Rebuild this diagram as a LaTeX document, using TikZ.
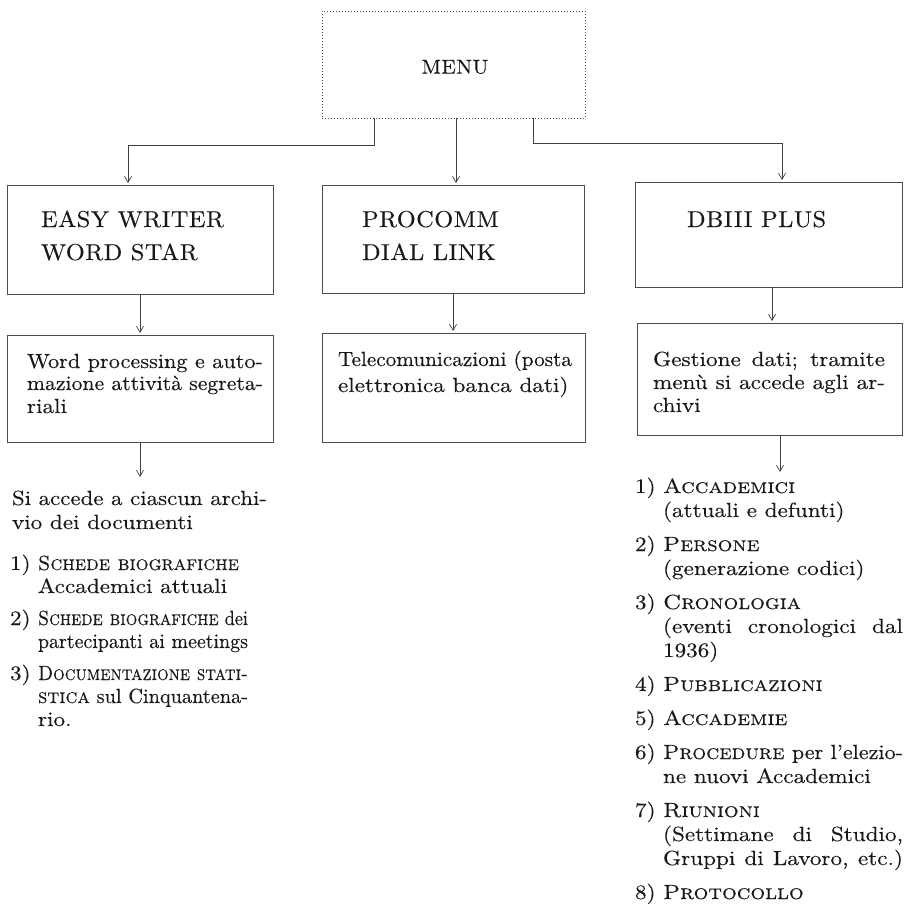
\documentclass[tikz,border=0pt]{standalone}
\usepackage{fontspec}
\usepackage{graphicx}
\usetikzlibrary{arrows.meta}
\setmainfont{lmroman10-regular.otf}[Ligatures=TeX,SmallCapsFont=lmromancaps10-regular.otf,BoldFont=lmroman10-bold.otf,ItalicFont=lmroman10-italic.otf]
\newfontfamily\bodyfam{lmroman10-regular.otf}[Ligatures=TeX,FakeStretch=1.13,FakeBold=0.3,SmallCapsFont=lmromancaps10-regular.otf,SmallCapsFeatures={FakeStretch=1.13,FakeBold=0.3}]
\newfontfamily\headfam{lmroman10-regular.otf}[FakeStretch=1.06,LetterSpace=2,FakeBold=0.25]
\newcommand\bodyf{\bodyfam\fontsize{20.5}{24}\selectfont}
\newcommand\headf{\headfam\fontsize{23}{28}\selectfont}
\newsavebox\jlbox
\newcommand\jline[2]{\sbox\jlbox{#2}\ifdim\wd\jlbox>#1\relax\resizebox{#1}{\height}{\usebox\jlbox}\else\makebox[#1][s]{#2}\fi}
\newcommand\TL[4]{\node[txt] (#1) at (#2,#3) {#4};}
\begin{document}
\begin{tikzpicture}[x=1pt,y=-1pt,
  txt/.style={inner sep=0pt,outer sep=0pt,anchor=base west,font=\bodyf,text=black!90},
  hdr/.style={txt,font=\headf},
  box/.style={draw=black!70,line width=0.7pt,inner sep=0pt,outer sep=0pt,rectangle},
  dotbox/.style={box,line width=0.9pt,dash pattern=on 0.9pt off 2.1pt},
  arr/.style={draw=black!75,line width=0.7pt,shorten >=2pt,-{Straight Barb[length=6pt,width=7pt]}}]
\useasboundingbox (0,0) rectangle (910,917);
% boxes
\node[dotbox,minimum width=263pt,minimum height=107pt] (menu) at (453.5,64.5) {};
\node[txt,anchor=center,font=\headfam\fontsize{20}{24}\selectfont] (menut) at (455,67) {MENU};
\node[box,minimum width=266pt,minimum height=109pt] (ew) at (140,239.5) {};
\node[box,minimum width=262pt,minimum height=108pt] (pc) at (453,239) {};
\node[box,minimum width=267pt,minimum height=105pt] (db) at (768.5,234.5) {};
\node[box,minimum width=266pt,minimum height=107pt] (wp) at (140,388.5) {};
\node[box,minimum width=263pt,minimum height=109pt] (tc) at (453.5,387.5) {};
\node[box,minimum width=265pt,minimum height=112pt] (gd) at (769.5,379) {};
% headers
\node[hdr] (h1a) at (41,227) {EASY WRITER};
\node[hdr] (h1b) at (41,260) {WORD STAR};
\node[hdr] (h2a) at (362,227) {PROCOMM};
\node[hdr] (h2b) at (362,260) {DIAL LINK};
\node[hdr] (h3a) at (687,227) {DBIII PLUS};
% box texts
\TL{wp1}{27}{368}{\jline{236pt}{Word processing e auto-}}
\TL{wp2}{27}{390}{\jline{236pt}{mazione attività segreta-}}
\TL{wp3}{27}{413}{riali}
\TL{tc1}{338}{366}{\jline{234pt}{Telecomunicazioni (posta}}
\TL{tc2}{338}{392}{elettronica banca dati)}
\TL{gd1}{653}{366}{\jline{232pt}{Gestione dati; tramite}}
\TL{gd2}{653}{389}{\jline{232pt}{menù si accede agli ar-}}
\TL{gd3}{653}{412}{chivi}
% left list
\TL{si1}{12}{505}{\jline{255pt}{Si accede a ciascun archi-}}
\TL{si2}{12}{529}{vio dei documenti}
\TL{l1n}{10}{570}{1)}
\TL{l1a}{38}{570}{\jline{201pt}{\textsc{Schede biografiche}}}
\TL{l1b}{38}{593}{Accademici attuali}
\TL{l2n}{10}{625}{2)}
\TL{l2a}{38}{625}{\jline{210pt}{\textsc{Schede biografiche} dei}}
\TL{l2b}{38}{648}{\jline{210pt}{partecipanti ai meetings}}
\TL{l3n}{10}{680}{3)}
\TL{l3a}{38}{680}{\jline{210pt}{\textsc{Documentazione stati-}}}
\TL{l3b}{38}{703}{\jline{210pt}{\textsc{stica} sul Cinquantena-}}
\TL{l3c}{38}{726}{rio.}
% right list
\TL{r1n}{635}{493}{1)}
\TL{r1a}{663}{493}{\textsc{Accademici}}
\TL{r1b}{663}{517}{(attuali e defunti)}
\TL{r2n}{635}{551}{2)}
\TL{r2a}{663}{551}{\textsc{Persone}}
\TL{r2b}{663}{575}{(generazione codici)}
\TL{r3n}{635}{609}{3)}
\TL{r3a}{663}{609}{\textsc{Cronologia}}
\TL{r3b}{663}{633}{\jline{240pt}{(eventi cronologici dal}}
\TL{r3c}{663}{657}{1936)}
\TL{r4n}{635}{691}{4)}
\TL{r4a}{663}{691}{\textsc{Pubblicazioni}}
\TL{r5n}{635}{725}{5)}
\TL{r5a}{663}{725}{\textsc{Accademie}}
\TL{r6n}{635}{759}{6)}
\TL{r6a}{663}{759}{\jline{240pt}{\textsc{Procedure} per l'elezio-}}
\TL{r6b}{663}{783}{ne nuovi Accademici}
\TL{r7n}{635}{817}{7)}
\TL{r7a}{663}{817}{\textsc{Riunioni}}
\TL{r7b}{663}{841}{\jline{240pt}{(Settimane di Studio,}}
\TL{r7c}{663}{865}{\jline{240pt}{Gruppi di Lavoro, etc.)}}
\TL{r8n}{635}{899}{8)}
\TL{r8a}{663}{899}{\textsc{Protocollo}}
% connectors
\coordinate (j1a) at (374,145);
\coordinate (j1b) at (128,145);
\draw[arr] (j1a |- menu.south) -- (j1a) -- (j1b) -- (j1b |- ew.north);
\coordinate (j2) at (456,0);
\draw[arr] (j2 |- menu.south) -- (j2 |- pc.north);
\coordinate (j3a) at (533,143);
\coordinate (j3b) at (782,143);
\draw[arr] (j3a |- menu.south) -- (j3a) -- (j3b) -- (j3b |- db.north);
\coordinate (k1) at (140,0);
\draw[arr] (k1 |- ew.south) -- (k1 |- wp.north);
\coordinate (k2) at (453,0);
\draw[arr] (k2 |- pc.south) -- (k2 |- tc.north);
\coordinate (k3) at (772,0);
\draw[arr] (k3 |- db.south) -- (k3 |- gd.north);
\coordinate (k4) at (140,479);
\draw[arr] (k4 |- wp.south) -- (k4);
\coordinate (k6) at (780,474);
\draw[arr] (k6 |- gd.south) -- (k6);
\end{tikzpicture}
\end{document}
